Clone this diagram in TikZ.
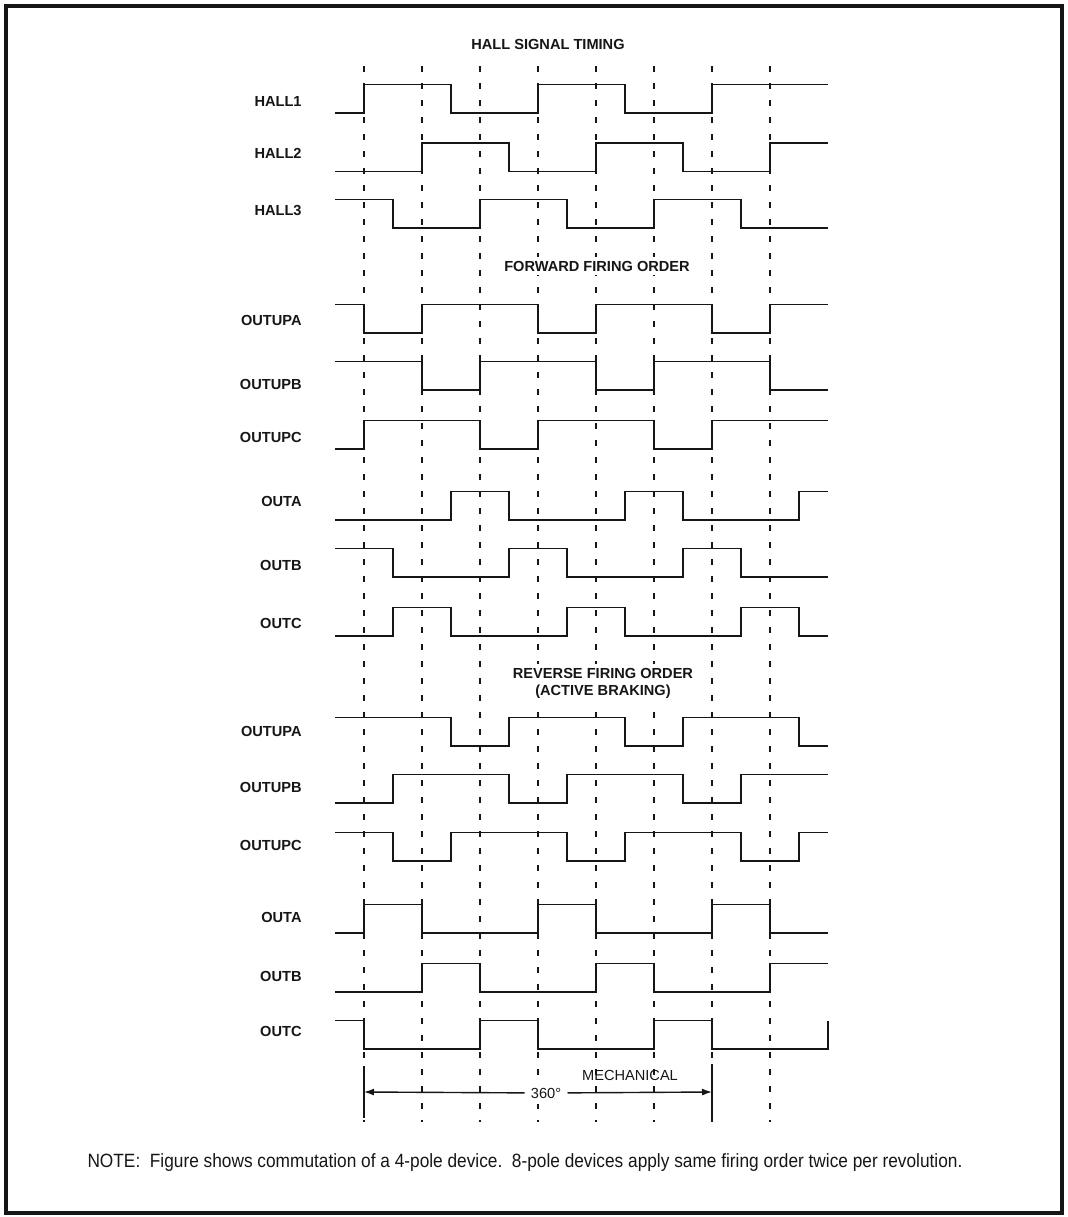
\documentclass[tikz,border=0pt]{standalone}
\usepackage{fontspec}
\setmainfont{Liberation Sans}
\newfontfamily\notefont[FakeStretch=0.9]{Liberation Sans}
\usetikzlibrary{arrows.meta}
\definecolor{ink}{HTML}{161616}

\begin{document}
\begin{tikzpicture}[x=0.5pt,y=-0.5pt,
  siglabel/.style={font=\fontsize{7.3}{8.5}\selectfont\bfseries,text=ink,anchor=east,inner sep=0pt},
  title/.style={font=\fontsize{7.3}{8.5}\selectfont\bfseries,text=ink,fill=white,inner sep=2pt,align=center},
  plain/.style={font=\fontsize{7.3}{8.5}\selectfont,text=ink},
  wire/.style={draw=ink,line width=0.7pt},
  tick/.style={draw=ink,line width=0.55pt,dash pattern=on 3pt off 5.5pt}]
  \useasboundingbox (0,0) rectangle (1067,1217);
  \draw[ink,line width=2pt] (5.5,5.5) rectangle (1062,1213);

  % Grid: one dashed line every second step (29 px per step, t=0 at x=364).
  \foreach \k in {0,2,...,14}
    \draw[tick] ({364+29*\k},66) -- ({364+29*\k},1122);

  \newcommand{\wave}[6]{% name, label, label y, low y, start level, step/level list
    \node[siglabel] (#1) at (302,#3) {#2};
    \draw[wire] (335,{#4-28.5*#5}) \foreach \tm/\lv in {#6} { -| ({364+29*\tm},{#4-28.5*\lv}) };
  }

  % Hall sensors.
  \node[title] (halltitle) at (548,44) {HALL SIGNAL TIMING};
  \wave{hallA}{HALL1}{101}{113}{0}{0/1,3/0,6/1,9/0,12/1,16/1}
  \wave{hallB}{HALL2}{153}{171.5}{0}{2/1,5/0,8/1,11/0,14/1,16/1}
  \wave{hallC}{HALL3}{210}{228}{1}{1/0,4/1,7/0,10/1,13/0,16/0}

  % Forward firing order.
  \node[title] (fwdtitle) at (597,266) {FORWARD FIRING ORDER};
  \wave{fupa}{OUTUPA}{320}{333}{1}{0/0,2/1,6/0,8/1,12/0,14/1,16/1}
  \wave{fupb}{OUTUPB}{384}{390}{1}{2/0,4/1,8/0,10/1,14/0,16/0}
  \wave{fupc}{OUTUPC}{437}{449}{0}{0/1,4/0,6/1,10/0,12/1,16/1}
  \wave{fouta}{OUTA}{501}{520}{0}{3/1,5/0,9/1,11/0,15/1,16/1}
  \wave{foutb}{OUTB}{565}{577}{1}{1/0,5/1,7/0,11/1,13/0,16/0}
  \wave{foutc}{OUTC}{623}{636}{0}{1/1,3/0,7/1,9/0,13/1,15/0,16/0}

  % Reverse firing order.
  \node[title] (revtitle) at (603,683.5) {REVERSE FIRING ORDER\\(ACTIVE BRAKING)};
  \wave{rupa}{OUTUPA}{731}{746}{1}{3/0,5/1,9/0,11/1,15/0,16/0}
  \wave{rupb}{OUTUPB}{787}{803}{0}{1/1,5/0,7/1,11/0,13/1,16/1}
  \wave{rupc}{OUTUPC}{845}{861}{1}{1/0,3/1,7/0,9/1,13/0,15/1,16/1}
  \wave{routa}{OUTA}{917}{933}{0}{0/1,2/0,6/1,8/0,12/1,14/0,16/0}
  \wave{routb}{OUTB}{976}{992}{0}{2/1,4/0,8/1,10/0,14/1,16/1}
  \wave{routc}{OUTC}{1031}{1049}{1}{0/0,4/1,6/0,10/1,12/0,16/1}

  % One mechanical revolution.
  \coordinate (revtop) at (364,1066);
  \coordinate (revbot) at (364,1118);
  \coordinate (endtop) at (712,1064);
  \coordinate (endbot) at (712,1120);
  \draw[wire] (revtop) -- (revbot);
  \draw[wire] (endtop) -- (endbot);
  \coordinate (revstart) at (364,1092);
  \coordinate (revend) at (712,1092);
  \node[plain,fill=white,inner sep=3pt] (turn) at (546,1093) {360°};
  \draw[wire,-{Latex[length=5pt,width=3.5pt]}] (turn) -- (revstart);
  \draw[wire,-{Latex[length=5pt,width=3.5pt]}] (turn) -- (revend);
  \node[plain] (mech) at (630,1075) {MECHANICAL};

  \node[text=ink,font=\notefont\fontsize{9.6}{11}\selectfont] (note) at (525,1163)
    {NOTE:\ \ Figure shows commutation of a 4-pole device.\ \ 8-pole devices apply same firing order twice per revolution.};
\end{tikzpicture}
\end{document}
